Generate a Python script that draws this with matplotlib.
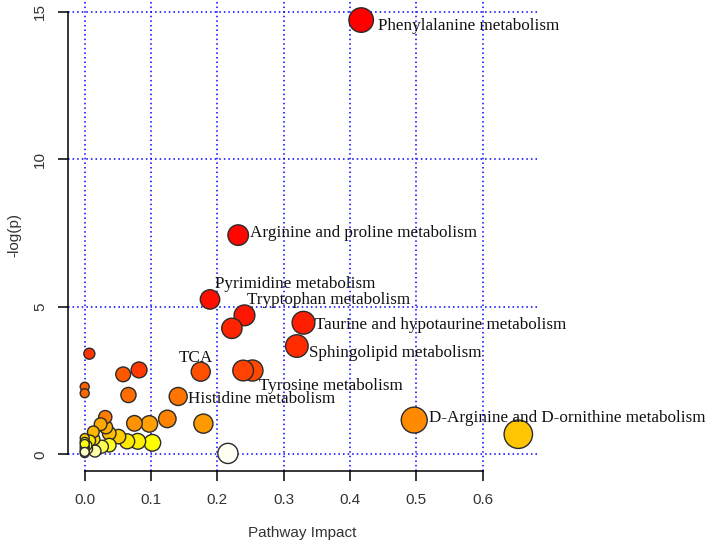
import numpy as np
import matplotlib
matplotlib.use("Agg")
import matplotlib.pyplot as plt
from matplotlib.colors import hsv_to_rgb

# pathway impact (x) and -log(p) (y)
impact = [
    0.417, 0.2315, 0.189, 0.241, 0.222, 0.330, 0.320, 0.007, 0.239, 0.253,
    0.082, 0.175, 0.058, 0.0, 0.0, 0.066, 0.141, 0.031, 0.1246, 0.497,
    0.075, 0.179, 0.0975, 0.024, 0.032, 0.013, 0.037, 0.654, 0.051, 0.0,
    0.014, 0.008, 0.064, 0.080, 0.0, 0.102, 0.037, 0.003, 0.026, 0.0,
    0.0, 0.0155, 0.0, 0.216, 0.0, 0.004, 0.0,
]
neglogp = [
    14.72, 7.43, 5.25, 4.71, 4.27, 4.46, 3.67, 3.41, 2.84, 2.84,
    2.86, 2.80, 2.71, 2.29, 2.07, 2.01, 1.96, 1.26, 1.20, 1.16,
    1.05, 1.04, 1.03, 1.02, 0.92, 0.76, 0.71, 0.68, 0.60, 0.55,
    0.51, 0.46, 0.44, 0.44, 0.42, 0.39, 0.31, 0.30, 0.26, 0.25,
    0.15, 0.11, 0.04, 0.03, 0.35, 0.19, 0.08,
]

# labelled pathways: index into the arrays above -> name
labels = {
    0: "Phenylalanine metabolism",
    1: "Arginine and proline metabolism",
    2: "Pyrimidine metabolism",
    3: "Tryptophan metabolism",
    5: "Taurine and hypotaurine metabolism",
    6: "Sphingolipid metabolism",
    11: "TCA",
    9: "Tyrosine metabolism",
    16: "Histidine metabolism",
    19: "D-Arginine and D-ornithine metabolism",
}
# text offsets from the circle centre, in pixels (dx, dy up), alignment
label_pos = {
    0: (17, -6, "left"),
    1: (12, 2, "left"),
    2: (5, 15, "left"),
    3: (3, 15, "left"),
    5: (12, -2, "left"),
    6: (12, -7, "left"),
    11: (-5, 14, "center"),
    9: (7, -15, "left"),
    16: (10, -3, "left"),
    19: (15, 2, "left"),
}


def heat_colors(n):
    # same scheme as R's heat.colors()
    j = n // 4
    i = n - j
    cols = [hsv_to_rgb((h, 1, 1)) for h in np.linspace(0, 1 / 6, i)]
    if j > 0:
        sat = np.linspace(1 - 1 / (2 * j), 1 / (2 * j), j)
        cols += [hsv_to_rgb((1 / 6, s, 1)) for s in sat]
    return cols


x = np.array(impact)
y = np.array(neglogp)
n = len(x)
order = np.argsort(-y, kind="stable")
pal = heat_colors(n)
colors = [None] * n
for rank, idx in enumerate(order):
    colors[idx] = pal[rank]

# circle radius in px grows with impact
radius = 4.5 + 12 * np.sqrt(x)
sizes = (1.44 * radius) ** 2

fig = plt.figure(figsize=(7.08, 5.46), dpi=100)
ax = fig.add_axes([68 / 708, 75 / 546, 469 / 708, 471 / 546])
ax.set_xlim(-0.0252, 0.6822)
ax.set_ylim(-0.566, 15.40)

xt = [0.0, 0.1, 0.2, 0.3, 0.4, 0.5, 0.6]
yt = [0, 5, 10, 15]
for v in xt:
    ax.axvline(v, color="blue", lw=1.1, ls=(0, (1, 2)), zorder=1)
for v in yt:
    ax.axhline(v, color="blue", lw=1.1, ls=(0, (1, 2)), zorder=1)

# big circles first so small ones stay visible
draw = np.argsort(-radius, kind="stable")
ax.scatter(x[draw], y[draw], s=sizes[draw], c=[colors[i] for i in draw],
           edgecolors="#2b2b2b", linewidths=1.0, zorder=3, clip_on=False)

for idx, name in labels.items():
    dx, dy, ha = label_pos[idx]
    ax.annotate(name, (x[idx], y[idx]), xytext=(dx, dy),
                textcoords="offset pixels", ha=ha, va="center",
                family="Liberation Serif", fontsize=12.3, color="#111111",
                zorder=4)

for side in ["top", "right"]:
    ax.spines[side].set_visible(False)
ax.spines["left"].set_bounds(0, 15)
ax.spines["bottom"].set_bounds(0, 0.6)
ax.spines["left"].set_linewidth(1.1)
ax.spines["bottom"].set_linewidth(1.1)

ax.set_xticks(xt)
ax.set_xticklabels([f"{v:.1f}" for v in xt])
ax.set_yticks(yt)
ax.set_yticklabels([str(v) for v in yt], rotation=90, va="center")
ax.tick_params(length=7, width=1.1, direction="out", labelsize=11,
               labelcolor="#333333")
ax.tick_params(axis="x", pad=9)
ax.tick_params(axis="y", pad=8)

fig.text(302 / 708, 1 - 533 / 546, "Pathway Impact", ha="center",
         va="center", fontsize=11, color="#333333",
         family="Liberation Sans")
fig.text(14 / 708, 1 - 235 / 546, "-log(p)", ha="center", va="center",
         rotation=90, fontsize=11, color="#333333",
         family="Liberation Sans")
for lab in ax.get_xticklabels() + ax.get_yticklabels():
    lab.set_family("Liberation Sans")

fig.savefig("out.png", dpi=100)
